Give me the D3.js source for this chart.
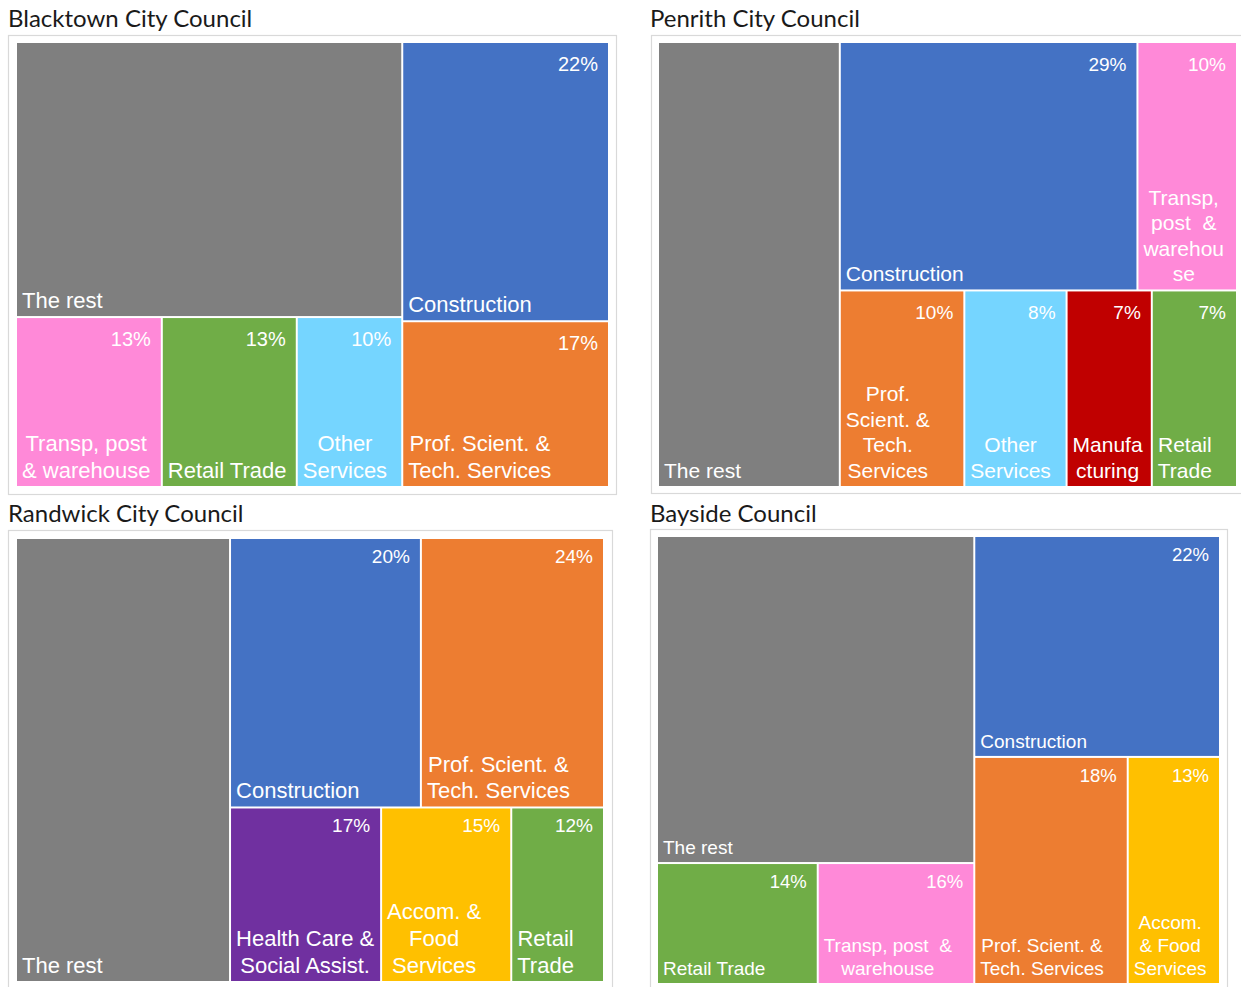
<!DOCTYPE html>
<html>
<head>
<meta charset="utf-8">
<script src="https://cdn.jsdelivr.net/npm/d3@7"></script>
<style>
	body { margin: 0; background: #fff; }
	.title { font-family: Lato, "Open Sans", sans-serif; fill: #1a1a1a; }
	.cell text { font-family: "Liberation Sans", Arial, sans-serif; fill: #fff; white-space: pre; }
</style>
</head>
<body>
<div id="chart"></div>
<script>
// ---- data (size = area share, pct = label shown in the box) ----
const blacktownNames = ["The rest", "Transp, post\n& warehouse", "Retail Trade", "Other\nServices", "Construction", "Prof. Scient. &\nTech. Services"];
const blacktownSize = [40.3, 9.4, 8.7, 6.8, 21.9, 13.0];
const blacktownPct = ["", "13%", "13%", "10%", "22%", "17%"];
const blacktownGroups = [[0, [1, 2, 3]], [4, 5]];

const penrithNames = ["The rest", "Construction", "Transp,\npost  &\nwarehou\nse", "Prof.\nScient. &\nTech.\nServices", "Other\nServices", "Manufa\ncturing", "Retail\nTrade"];
const penrithSize = [31.4, 28.7, 9.6, 9.5, 7.8, 6.5, 6.5];
const penrithPct = ["", "29%", "10%", "10%", "8%", "7%", "7%"];
const penrithGroups = [0, [[1, 2], [3, 4, 5, 6]]];

const randwickNames = ["The rest", "Construction", "Prof. Scient. &\nTech. Services", "Health Care &\nSocial Assist.", "Accom. &\nFood\nServices", "Retail\nTrade"];
const randwickSize = [36.4, 19.7, 18.9, 10.1, 8.7, 6.2];
const randwickPct = ["", "20%", "24%", "17%", "15%", "12%"];
const randwickGroups = [0, [[1, 2], [3, 4, 5]]];

const baysideNames = ["The rest", "Retail Trade", "Transp, post  &\nwarehouse", "Construction", "Prof. Scient. &\nTech. Services", "Accom.\n& Food\nServices"];
const baysideSize = [41.1, 7.7, 7.5, 21.5, 13.8, 8.3];
const baysidePct = ["", "14%", "16%", "22%", "18%", "13%"];
const baysideGroups = [[0, [1, 2]], [3, [4, 5]]];

// colour by first word of the label
const colorByWord = {
	"The": "#7f7f7f",
	"Construction": "#4472c4",
	"Prof.": "#ed7d31",
	"Transp,": "#ff89d8",
	"Retail": "#70ad47",
	"Other": "#75d5ff",
	"Manufa": "#c00000",
	"Health": "#7030a0",
	"Accom.": "#ffc000"
};

const charts = [
	{ title: "Blacktown City Council", names: blacktownNames, size: blacktownSize, pct: blacktownPct, groups: blacktownGroups,
	  tx: 8, ty: 27, frame: [8, 35, 608, 459], inner: [17, 43, 591, 443], nameSize: 22, pctSize: 20, pctDy: 28 },
	{ title: "Penrith City Council", names: penrithNames, size: penrithSize, pct: penrithPct, groups: penrithGroups,
	  tx: 650, ty: 27, frame: [651, 35, 610, 458], inner: [659, 43, 577, 443], nameSize: 21, pctSize: 19, pctDy: 28 },
	{ title: "Randwick City Council", names: randwickNames, size: randwickSize, pct: randwickPct, groups: randwickGroups,
	  tx: 8, ty: 522, frame: [8, 530, 604, 480], inner: [17, 539, 586, 442], nameSize: 22, pctSize: 19, pctDy: 24 },
	{ title: "Bayside Council", names: baysideNames, size: baysideSize, pct: baysidePct, groups: baysideGroups,
	  tx: 650, ty: 522, frame: [650, 529, 577, 480], inner: [658, 537, 561, 446], nameSize: 19, pctSize: 18.5, pctDy: 24 }
];

var width = 1241, height = 987;

var svg = d3.select("#chart")
	.append("svg")
	.attr("width", width)
	.attr("height", height);

// split along the longer side, like excel does
function tile(node, x0, y0, x1, y1) {
	if (x1 - x0 >= y1 - y0) d3.treemapDice(node, x0, y0, x1, y1);
	else d3.treemapSlice(node, x0, y0, x1, y1);
}

charts.forEach(c => {
	svg.append("text")
		.attr("class", "title")
		.attr("x", c.tx)
		.attr("y", c.ty)
		.attr("font-size", "24px")
		.text(c.title);

	svg.append("rect")
		.attr("x", c.frame[0] + 0.5)
		.attr("y", c.frame[1] + 0.5)
		.attr("width", c.frame[2])
		.attr("height", c.frame[3])
		.attr("fill", "none")
		.attr("stroke", "#d9d9d9")
		.attr("stroke-width", 1.2);

	const root = d3.hierarchy(c.groups, d => Array.isArray(d) ? d : null)
		.sum(d => Array.isArray(d) ? 0 : c.size[d]);

	d3.treemap()
		.tile(tile)
		.size([c.inner[2], c.inner[3]])
		.paddingInner(2)(root);

	const g = svg.append("g")
		.attr("transform", "translate(" + c.inner[0] + "," + c.inner[1] + ")");

	const cell = g.selectAll("g")
		.data(root.leaves())
		.join("g")
		.attr("class", "cell");

	cell.append("rect")
		.attr("x", d => d.x0)
		.attr("y", d => d.y0)
		.attr("width", d => d.x1 - d.x0)
		.attr("height", d => d.y1 - d.y0)
		.attr("fill", d => colorByWord[c.names[d.data].split(/\s/)[0]]);

	// percent, top right
	cell.append("text")
		.attr("x", d => d.x1 - 10)
		.attr("y", d => d.y0 + c.pctDy)
		.attr("text-anchor", "end")
		.attr("font-size", c.pctSize + "px")
		.text(d => c.pct[d.data]);

	// name, bottom left; lines centred on the widest line
	cell.each(function(d) {
		const lines = c.names[d.data].split("\n");
		const lh = c.nameSize * 1.22;
		const t = d3.select(this).append("text")
			.attr("font-size", c.nameSize + "px");
		const spans = t.selectAll("tspan")
			.data(lines)
			.join("tspan")
			.attr("y", (l, i) => d.y1 - 8 - (lines.length - 1 - i) * lh)
			.text(l => l);
		let maxW = 0;
		spans.each(function() { maxW = Math.max(maxW, this.getComputedTextLength()); });
		if (lines.length > 1) {
			spans.attr("x", d.x0 + 5 + maxW / 2).attr("text-anchor", "middle");
		} else {
			spans.attr("x", d.x0 + 5);
		}
	});
});
</script>
</body>
</html>
